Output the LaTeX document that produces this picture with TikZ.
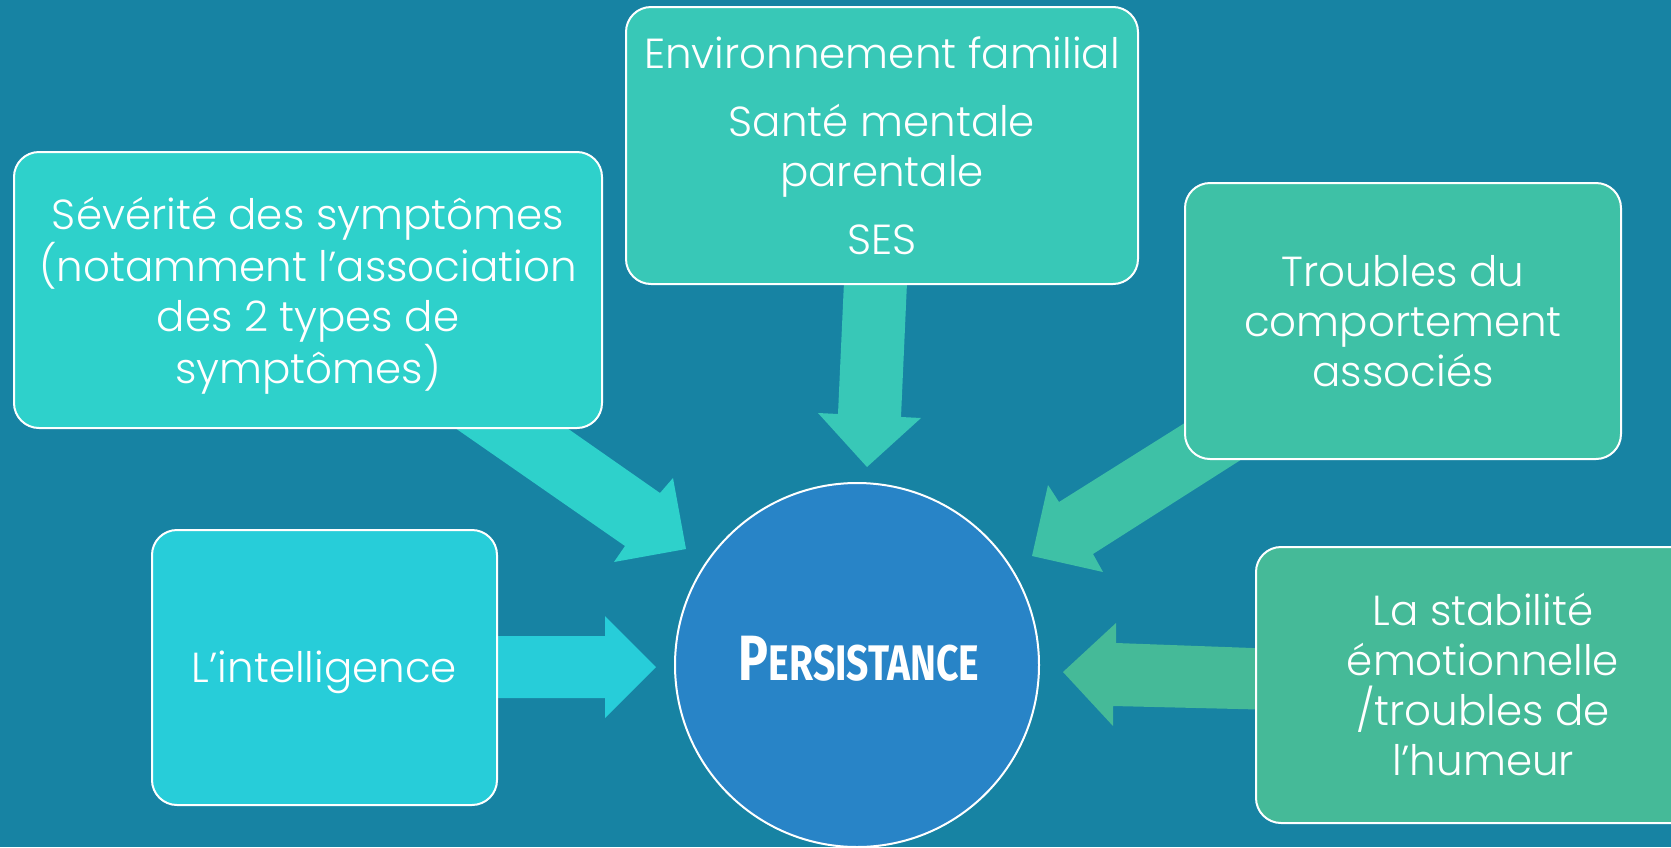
\documentclass[tikz,border=0pt]{standalone}
\usepackage{fontspec}
\usepackage{graphicx}
\setmainfont{Poppins}[UprightFont=* Light, BoldFont=* Medium]
\newfontfamily\persfont{Fira Sans}
\definecolor{bg}{HTML}{1783A3}
\definecolor{csev}{HTML}{2ED1CB}
\definecolor{cint}{HTML}{27CDD9}
\definecolor{cenv}{HTML}{38C8B7}
\definecolor{ctro}{HTML}{3EC1A6}
\definecolor{cstab}{HTML}{45BA98}
\definecolor{ccirc}{HTML}{2884C7}
\tikzset{
  box/.style={draw=white, line width=1pt, rounded corners=12.5pt, text=white,
    align=center, inner sep=0pt, font=\fontsize{21}{25}\selectfont},
  boxtext/.style={text=white, align=center, font=\fontsize{21}{25}\selectfont},
}
\begin{document}
\begin{tikzpicture}[x=0.5pt, y=-0.5pt]
\useasboundingbox (0,0) rectangle (1671,847);
\clip (0,0) rectangle (1671,847);
\fill[bg] (0,0) rectangle (1671,847);

% block arrows
\fill[csev]  (422,405) -- (625,546) -- (614,562) -- (686,549) -- (673,478) -- (660,493) -- (534,405) -- cycle;
\fill[cint]  (480,636) -- (605,636) -- (605,616) -- (656,667) -- (605,718) -- (605,698) -- (480,698) -- cycle;
\fill[cenv]  (845,260) -- (908,260) -- (901,417) -- (921,418) -- (867,467) -- (818,413) -- (838,414) -- cycle;
\fill[ctro]  (1032,556) -- (1048,485) -- (1059,502) -- (1215,404) -- (1272,440) -- (1093,554) -- (1103,572) -- cycle;
\fill[cstab] (1063,672) -- (1116,623) -- (1116,643) -- (1280,649) -- (1280,710) -- (1113,706) -- (1113,726) -- cycle;

% boxes
\node[box, fill=csev, minimum width=294pt, minimum height=138pt] (sev) at (308,290) {};
\node[boxtext] (sevtext) at (308,296)
  {Sévérité des symptômes\\(notamment l’association\\des 2 types de\\symptômes)};
\node[box, fill=cint, minimum width=172.5pt, minimum height=137.5pt] (intel) at (324.5,667.5) {};
\node[boxtext] (inteltext) at (324.5,672) {L’intelligence};
\node[box, fill=cenv, minimum width=256pt, minimum height=138.5pt] (env) at (882,145.5)
  {Environnement familial\\[9pt]Santé mentale\\parentale\\[9pt]SES};
\node[box, fill=ctro, minimum width=218pt, minimum height=138pt] (trou) at (1403,321)
  {Troubles du\\comportement\\associés};
\node[box, fill=cstab, minimum width=227pt, minimum height=138pt] (stab) at (1483,685)
  {La stabilité\\émotionnelle\\/troubles de\\l’humeur};

% central circle
\node[circle, draw=white, line width=1pt, fill=ccirc, minimum size=182pt, inner sep=0pt] (pers) at (857,665) {};
\node[text=white] (perstext) at (859,659)
  {\scalebox{0.78}[1]{\persfont\bfseries{\fontsize{32}{32}\selectfont P}{\fontsize{25}{25}\selectfont ERSISTANCE}}};
\end{tikzpicture}
\end{document}
